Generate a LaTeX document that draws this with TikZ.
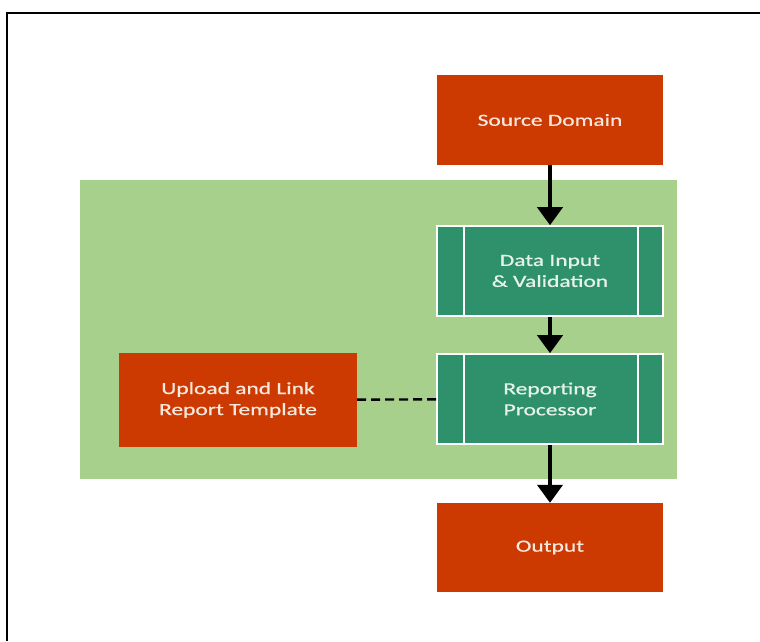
\documentclass[tikz,border=0pt]{standalone}
\usepackage{fontspec}
\setmainfont{Carlito}
\newfontfamily\boxfont{Carlito}[FakeBold=0.6]
\usepackage{graphicx}
\usetikzlibrary{arrows.meta}
\definecolor{boxred}{RGB}{204,58,2}
\definecolor{boxteal}{RGB}{46,145,108}
\definecolor{bggreen}{RGB}{168,208,141}
\definecolor{txtred}{RGB}{248,232,222}
\definecolor{txtteal}{RGB}{230,242,236}
\newcommand{\sx}[1]{\scalebox{1.38}[1]{#1}}
\tikzset{
  redbox/.style={draw=none, fill=boxred, minimum width=226pt, minimum height=90pt,
    inner sep=0pt, text=txtred, align=center, font=\fontsize{17pt}{21pt}\boxfont},
  tealbox/.style={draw=white, line width=1.6pt, fill=boxteal, minimum width=226pt, minimum height=90pt,
    inner sep=0pt, text=txtteal, align=center, font=\fontsize{17pt}{21pt}\boxfont},
  flow/.style={line width=4pt, -{Triangle[width=25pt,length=18pt]}},
  link/.style={line width=2.4pt, dash pattern=on 9pt off 5pt},
}
\begin{document}
\begin{tikzpicture}[x=1pt,y=-1pt]
\useasboundingbox (0,0) rectangle (760,641);
\draw[line width=2pt] (7,641) -- (7,13) -- (760,13);
\fill[bggreen] (80,180) rectangle (677,479);
\node[redbox] (src) at (550,120) {\sx{Source Domain}};
\node[tealbox] (di) at (550,271) {\sx{Data Input}\\\sx{\& Validation}};
\node[tealbox] (rp) at (550,399) {\sx{Reporting}\\\sx{Processor}};
\node[redbox, minimum width=238pt, minimum height=94pt] (up) at (238,400) {\sx{Upload and Link}\\\sx{Report Template}};
\node[redbox, minimum height=89pt] (out) at (550,547.5) {\sx{Output}};
\foreach \n in {di,rp}{
  \draw[white, line width=1.6pt] ([xshift=28pt]\n.north west) -- ([xshift=28pt]\n.south west);
  \draw[white, line width=1.6pt] ([xshift=-26pt]\n.north east) -- ([xshift=-26pt]\n.south east);
}
\draw[flow] (src) -- (di);
\draw[flow] (di) -- (rp);
\draw[flow] (rp) -- (out);
\draw[link] (up) -- (rp);
\end{tikzpicture}
\end{document}
